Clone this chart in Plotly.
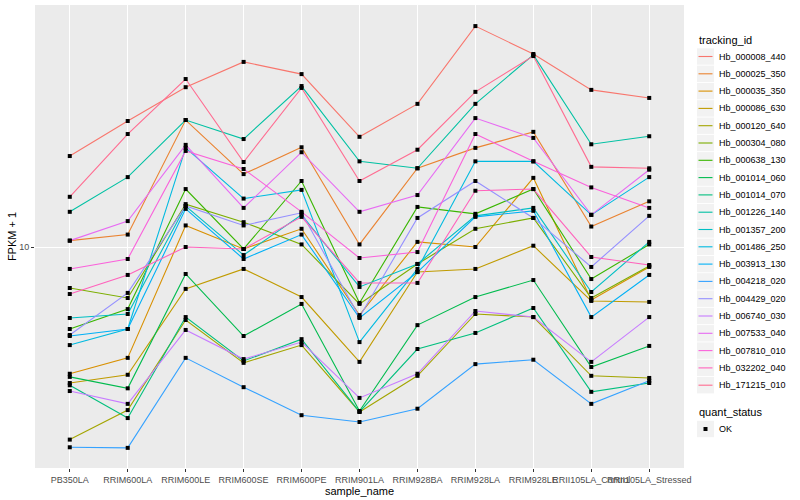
import plotly.graph_objects as go

samples = ["PB350LA", "RRIM600LA", "RRIM600LE", "RRIM600SE", "RRIM600PE", "RRIM901LA",
           "RRIM928BA", "RRIM928LA", "RRIM928LE", "RRII105LA_Control", "RRII105LA_Stressed"]

tracking_ids = ["Hb_000008_440", "Hb_000025_350", "Hb_000035_350", "Hb_000086_630", "Hb_000120_640",
                "Hb_000304_080", "Hb_000638_130", "Hb_001014_060", "Hb_001014_070", "Hb_001226_140",
                "Hb_001357_200", "Hb_001486_250", "Hb_003913_130", "Hb_004218_020", "Hb_004429_020",
                "Hb_006740_030", "Hb_007533_040", "Hb_007810_010", "Hb_032202_040", "Hb_171215_010"]

colors = ["#F8766D", "#EA8331", "#D89000", "#C09B00", "#A3A500", "#7CAE00", "#39B600", "#00BB4E",
          "#00BF7D", "#00C1A3", "#00BFC4", "#00BAE0", "#00B0F6", "#35A2FF", "#9590FF", "#C77CFF",
          "#E76BF3", "#FA62DB", "#FF62BC", "#FF6C91"]

# FPKM + 1 per gene, in sample order
Hb_000008_440 = [20.1, 26.3, 34.1, 41.4, 37.7, 23.3, 30.0, 54.5, 44.0, 33.4, 31.4]
Hb_000025_350 = [10.5, 11.0, 26.5, 17.5, 21.5, 10.2, 18.3, 21.4, 24.2, 11.7, 14.2]
Hb_000035_350 = [3.78, 4.27, 11.8, 9.85, 11.5, 5.93, 10.4, 10.0, 17.0, 6.66, 8.58]
Hb_000086_630 = [3.52, 3.75, 7.25, 8.45, 6.81, 4.14, 8.25, 8.45, 10.1, 6.61, 6.56]
Hb_000120_640 = [2.28, 2.86, 5.71, 4.11, 4.71, 2.82, 3.72, 5.98, 5.84, 3.72, 3.66]
Hb_000304_080 = [7.30, 6.76, 13.9, 12.1, 10.2, 6.46, 8.78, 11.5, 12.5, 6.76, 8.64]
Hb_000638_130 = [5.33, 6.21, 15.6, 9.85, 16.6, 6.51, 13.6, 12.9, 15.6, 7.82, 10.2]
Hb_001014_060 = [3.69, 3.38, 8.13, 5.05, 6.46, 2.84, 5.49, 6.81, 7.76, 3.98, 4.68]
Hb_001014_070 = [3.46, 2.69, 5.84, 4.17, 4.93, 2.82, 4.57, 5.17, 6.26, 3.29, 3.52]
Hb_001226_140 = [13.1, 17.1, 26.5, 22.9, 34.4, 19.3, 18.3, 30.0, 43.7, 22.0, 23.4]
Hb_001357_200 = [5.80, 5.98, 13.7, 9.40, 12.8, 7.36, 8.78, 12.7, 13.5, 7.08, 10.4]
Hb_001486_250 = [4.71, 5.33, 21.4, 14.5, 15.5, 4.82, 8.45, 19.3, 19.3, 12.8, 17.1]
Hb_003913_130 = [5.05, 5.33, 13.4, 9.12, 11.0, 5.80, 8.25, 12.6, 13.2, 5.84, 8.07]
Hb_004218_020 = [2.15, 2.14, 4.27, 3.41, 2.75, 2.61, 2.89, 4.07, 4.21, 3.00, 3.58]
Hb_004429_020 = [5.09, 7.03, 13.7, 11.8, 13.0, 5.84, 12.5, 16.6, 12.5, 8.58, 12.7]
Hb_006740_030 = [3.31, 3.00, 5.29, 4.23, 4.82, 3.14, 3.78, 6.12, 5.84, 4.14, 5.84]
Hb_007533_040 = [10.5, 12.2, 21.9, 13.5, 20.7, 13.1, 14.9, 26.9, 23.1, 12.8, 18.1]
Hb_007810_010 = [8.45, 9.12, 20.9, 18.2, 13.1, 9.19, 9.62, 23.8, 19.3, 15.8, 13.5]
Hb_032202_040 = [6.97, 8.07, 10.0, 9.85, 12.6, 7.59, 7.59, 15.4, 15.6, 9.26, 8.71]
Hb_171215_010 = [14.7, 23.8, 36.3, 19.2, 33.9, 16.6, 21.1, 32.9, 43.3, 18.5, 18.3]

series = [Hb_000008_440, Hb_000025_350, Hb_000035_350, Hb_000086_630, Hb_000120_640,
          Hb_000304_080, Hb_000638_130, Hb_001014_060, Hb_001014_070, Hb_001226_140,
          Hb_001357_200, Hb_001486_250, Hb_003913_130, Hb_004218_020, Hb_004429_020,
          Hb_006740_030, Hb_007533_040, Hb_007810_010, Hb_032202_040, Hb_171215_010]

quant_status = ["OK"]

FONT = "Liberation Sans, Arial, sans-serif"
W, H = 800, 500
ML, MR, MT, MB = 35, 116, 5, 32
PW, PH = W - ML - MR, H - MT - MB


def px(x):
    return (x - ML) / PW


def py(y):
    return 1 - (y - MT) / PH


fig = go.Figure()
for name, col, vals in zip(tracking_ids, colors, series):
    fig.add_trace(go.Scatter(
        x=samples, y=vals, mode="lines", name=name,
        line=dict(color=col, width=1.1), showlegend=False))

all_x = [s for vals in series for s in samples]
all_y = [v for vals in series for v in vals]
fig.add_trace(go.Scatter(
    x=all_x, y=all_y, mode="markers", name=quant_status[0],
    marker=dict(color="black", symbol="square", size=4), showlegend=False))

# manual ggplot-style legend
shapes = []
annotations = []
annotations.append(dict(text="tracking_id", x=px(697), y=py(40), xref="paper", yref="paper",
                        xanchor="left", yanchor="middle", showarrow=False,
                        font=dict(size=11, color="black", family=FONT)))
step = 17.3
for i, (name, col) in enumerate(zip(tracking_ids, colors)):
    cy = 56.5 + step * i
    shapes.append(dict(type="rect", xref="paper", yref="paper",
                       x0=px(697), x1=px(714), y0=py(cy - 8.2), y1=py(cy + 8.2),
                       fillcolor="#F2F2F2", line=dict(width=0), layer="below"))
    shapes.append(dict(type="line", xref="paper", yref="paper",
                       x0=px(698.5), x1=px(712.5), y0=py(cy), y1=py(cy),
                       line=dict(color=col, width=1.1)))
    annotations.append(dict(text=name, x=px(717), y=py(cy), xref="paper", yref="paper",
                            xanchor="left", yanchor="middle", showarrow=False,
                            font=dict(size=9, color="black", family=FONT)))
annotations.append(dict(text="quant_status", x=px(697), y=py(412), xref="paper", yref="paper",
                        xanchor="left", yanchor="middle", showarrow=False,
                        font=dict(size=11, color="black", family=FONT)))
shapes.append(dict(type="rect", xref="paper", yref="paper",
                   x0=px(697), x1=px(714), y0=py(429 - 8.2), y1=py(429 + 8.2),
                   fillcolor="#F2F2F2", line=dict(width=0), layer="below"))
shapes.append(dict(type="rect", xref="paper", yref="paper",
                   x0=px(703.5), x1=px(707.5), y0=py(427), y1=py(431),
                   fillcolor="black", line=dict(width=0)))
annotations.append(dict(text=quant_status[0], x=px(717), y=py(429), xref="paper", yref="paper",
                        xanchor="left", yanchor="middle", showarrow=False,
                        font=dict(size=9, color="black", family=FONT)))

fig.update_layout(
    width=W, height=H,
    margin=dict(l=ML, r=MR, t=MT, b=MB, autoexpand=False),
    paper_bgcolor="white", plot_bgcolor="#EBEBEB",
    font=dict(family=FONT, size=9, color="black"),
    showlegend=False, shapes=shapes, annotations=annotations,
)
fig.update_xaxes(
    type="category", categoryorder="array", categoryarray=samples,
    range=[-0.6, 10.6], showgrid=True, gridcolor="white", gridwidth=1.1,
    zeroline=False, showline=False, ticks="outside", ticklen=3, tickcolor="#333333",
    tickangle=0, automargin=False,
    tickfont=dict(size=9, color="#4D4D4D", family=FONT),
    title=dict(text="sample_name", font=dict(size=11, color="black"), standoff=0))
fig.update_yaxes(
    type="log", range=[0.2633, 1.8067], tickvals=[10], ticktext=["10"],
    showgrid=True, gridcolor="white", gridwidth=1.1, zeroline=False, showline=False,
    ticks="outside", ticklen=3, tickcolor="#333333", automargin=False,
    tickfont=dict(size=9, color="#4D4D4D", family=FONT),
    title=dict(text="FPKM + 1", font=dict(size=11, color="black"), standoff=0))

fig.write_html("out.html", config={"displayModeBar": False},
               post_script="document.body.style.margin='0';")
